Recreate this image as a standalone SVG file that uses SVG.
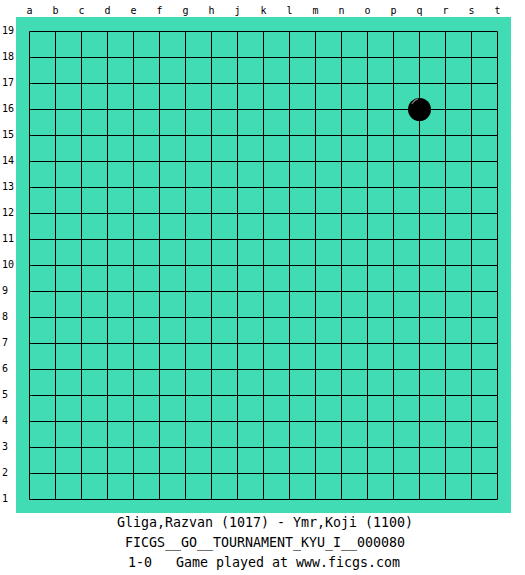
<svg xmlns="http://www.w3.org/2000/svg" width="525" height="575" viewBox="0 0 525 575">
<style>
.lbl{font-family:"DejaVu Sans Mono","Liberation Mono",monospace;font-size:10px;fill:#000}
.cap{font-family:"DejaVu Sans Mono","Liberation Mono",monospace;font-size:13.3px;fill:#000;text-anchor:middle;white-space:pre}
.grid line{stroke:#000;stroke-width:1}
</style>
<rect width="525" height="575" fill="#fff"/>
<g id="board">
<rect x="16" y="17" width="495" height="496" fill="#41dcb4"/>
<g class="grid">
<line x1="29.5" y1="31.5" x2="29.5" y2="499.5"/><line x1="55.5" y1="31.5" x2="55.5" y2="499.5"/><line x1="81.5" y1="31.5" x2="81.5" y2="499.5"/><line x1="107.5" y1="31.5" x2="107.5" y2="499.5"/><line x1="133.5" y1="31.5" x2="133.5" y2="499.5"/><line x1="159.5" y1="31.5" x2="159.5" y2="499.5"/><line x1="185.5" y1="31.5" x2="185.5" y2="499.5"/><line x1="211.5" y1="31.5" x2="211.5" y2="499.5"/><line x1="237.5" y1="31.5" x2="237.5" y2="499.5"/><line x1="263.5" y1="31.5" x2="263.5" y2="499.5"/><line x1="289.5" y1="31.5" x2="289.5" y2="499.5"/><line x1="315.5" y1="31.5" x2="315.5" y2="499.5"/><line x1="341.5" y1="31.5" x2="341.5" y2="499.5"/><line x1="367.5" y1="31.5" x2="367.5" y2="499.5"/><line x1="393.5" y1="31.5" x2="393.5" y2="499.5"/><line x1="419.5" y1="31.5" x2="419.5" y2="499.5"/><line x1="445.5" y1="31.5" x2="445.5" y2="499.5"/><line x1="471.5" y1="31.5" x2="471.5" y2="499.5"/><line x1="497.5" y1="31.5" x2="497.5" y2="499.5"/>
<line x1="29.5" y1="31.5" x2="497.5" y2="31.5"/><line x1="29.5" y1="57.5" x2="497.5" y2="57.5"/><line x1="29.5" y1="83.5" x2="497.5" y2="83.5"/><line x1="29.5" y1="109.5" x2="497.5" y2="109.5"/><line x1="29.5" y1="135.5" x2="497.5" y2="135.5"/><line x1="29.5" y1="161.5" x2="497.5" y2="161.5"/><line x1="29.5" y1="187.5" x2="497.5" y2="187.5"/><line x1="29.5" y1="213.5" x2="497.5" y2="213.5"/><line x1="29.5" y1="239.5" x2="497.5" y2="239.5"/><line x1="29.5" y1="265.5" x2="497.5" y2="265.5"/><line x1="29.5" y1="291.5" x2="497.5" y2="291.5"/><line x1="29.5" y1="317.5" x2="497.5" y2="317.5"/><line x1="29.5" y1="343.5" x2="497.5" y2="343.5"/><line x1="29.5" y1="369.5" x2="497.5" y2="369.5"/><line x1="29.5" y1="395.5" x2="497.5" y2="395.5"/><line x1="29.5" y1="421.5" x2="497.5" y2="421.5"/><line x1="29.5" y1="447.5" x2="497.5" y2="447.5"/><line x1="29.5" y1="473.5" x2="497.5" y2="473.5"/><line x1="29.5" y1="499.5" x2="497.5" y2="499.5"/>
</g>
</g>
<g id="stone-q16">
<circle cx="419.5" cy="109.5" r="11.5" fill="#000"/>
<path d="M412 104 Q414 100 418 99" stroke="#888" stroke-width="1.2" fill="none"/>
</g>
<g id="col-labels" class="lbl" text-anchor="middle">
<text x="29.5" y="14">a</text><text x="55.5" y="14">b</text><text x="81.5" y="14">c</text><text x="107.5" y="14">d</text><text x="133.5" y="14">e</text><text x="159.5" y="14">f</text><text x="185.5" y="14">g</text><text x="211.5" y="14">h</text><text x="237.5" y="14">j</text><text x="263.5" y="14">k</text><text x="289.5" y="14">l</text><text x="315.5" y="14">m</text><text x="341.5" y="14">n</text><text x="367.5" y="14">o</text><text x="393.5" y="14">p</text><text x="419.5" y="14">q</text><text x="445.5" y="14">r</text><text x="471.5" y="14">s</text><text x="497.5" y="14">t</text>
</g>
<g id="row-labels" class="lbl">
<text x="2" y="33.5">19</text><text x="2" y="59.5">18</text><text x="2" y="85.5">17</text><text x="2" y="111.5">16</text><text x="2" y="137.5">15</text><text x="2" y="163.5">14</text><text x="2" y="189.5">13</text><text x="2" y="215.5">12</text><text x="2" y="241.5">11</text><text x="2" y="267.5">10</text><text x="2" y="293.5">9</text><text x="2" y="319.5">8</text><text x="2" y="345.5">7</text><text x="2" y="371.5">6</text><text x="2" y="397.5">5</text><text x="2" y="423.5">4</text><text x="2" y="449.5">3</text><text x="2" y="475.5">2</text><text x="2" y="501.5">1</text>
</g>
<g id="caption">
<text class="cap" x="265" y="527">Gliga,Razvan (1017) - Ymr,Koji (1100)</text>
<text class="cap" x="265" y="547">FICGS__GO__TOURNAMENT_KYU_I__000080</text>
<text class="cap" x="264" y="567" xml:space="preserve">1-0   Game played at www.ficgs.com</text>
</g>
</svg>
